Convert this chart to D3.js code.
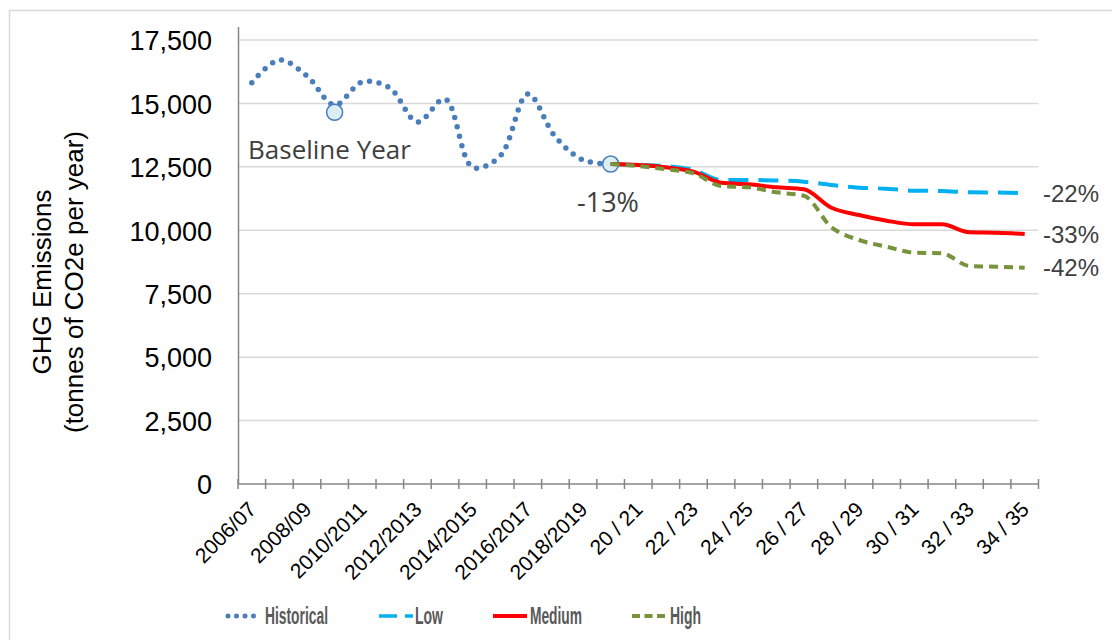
<!DOCTYPE html>
<html>
<head>
<meta charset="utf-8">
<script src="https://cdn.jsdelivr.net/npm/d3@7"></script>
<style>
    body { margin: 0; background: #fff; }
    .tick_label { font-family: "Liberation Sans", Arial, sans-serif; fill: #000; }
    .legendText { font-family: "Liberation Sans Narrow", "Liberation Sans", Arial, sans-serif; font-weight: bold; fill: #595959; font-size: 23px; }
    .note { font-family: "Open Sans", "Noto Sans", sans-serif; fill: #404040; }
</style>
</head>
<body>
<div class="ghg_chart"></div>
<script>

// categories along the x axis (financial years)
const years = ["2006/07", "2007/08", "2008/09", "2009/10", "2010/2011", "2011/2012", "2012/2013", "2013/2014",
    "2014/2015", "2015/2016", "2016/2017", "2017/2018", "2018/2019", "2019/2020", "20 / 21", "21 / 22",
    "22 / 23", "23 / 24", "24 / 25", "25 / 26", "26 / 27", "27 / 28", "28 / 29", "29 / 30", "30 / 31",
    "31 / 32", "32 / 33", "33 / 34", "34 / 35"]

const historical = [15817, 16712, 16081, 14938, 15845, 15608, 14268, 15174, 12483, 12928, 15371, 13677, 12770, 12612]

// projections start from 2019/2020
const projYears = years.slice(13)
const low = [12612, 12573, 12534, 12376, 11982, 11982, 11962, 11915, 11785, 11678, 11639, 11560, 11548, 11497, 11489, 11458]
const medium = [12612, 12573, 12482, 12310, 11875, 11812, 11694, 11615, 10890, 10602, 10378, 10236, 10236, 9921, 9905, 9853]
const high = [12612, 12534, 12403, 12246, 11745, 11694, 11497, 11363, 10118, 9617, 9353, 9117, 9093, 8592, 8565, 8526]

const markers = [
    { year: "2009/10", value: 14650, label: "Baseline Year" },
    { year: "2019/2020", value: 12612, label: "-13%" }
]
const endLabels = ["-22%", "-33%", "-42%"]
const yTicks = [0, 2500, 5000, 7500, 10000, 12500, 15000, 17500]

function drawChart() {

    const width = 1112
    const height = 640

    const svg = d3.select(".ghg_chart")
        .append("svg")
        .attr("width", width)
        .attr("height", height)

    // chart border
    svg.append("rect")
        .attr("x", 9.5)
        .attr("y", 10.5)
        .attr("width", 1200)
        .attr("height", 700)
        .attr("fill", "none")
        .attr("stroke", "#d9d9d9")
        .attr("stroke-width", 1.5)

    const x = d3.scaleBand()
        .domain(years)
        .range([238, 1038.5])

    const cx = d => x(d) + x.bandwidth() / 2

    const y = d3.scaleLinear()
        .domain([0, 17500])
        .range([484, 40])

    // gridlines
    svg.append("g")
        .selectAll("line")
        .data(yTicks.filter(d => d > 0))
        .join("line")
        .attr("x1", 238)
        .attr("x2", 1038.5)
        .attr("y1", d => y(d))
        .attr("y2", d => y(d))
        .attr("stroke", "#d9d9d9")
        .attr("stroke-width", 1.5)

    // y axis
    const yAxis = svg.append("g")
        .attr("transform", "translate(238,0)")
        .call(d3.axisLeft(y).tickValues(yTicks).tickSize(0).tickPadding(26).tickFormat(d3.format(",")))
    yAxis.select(".domain").remove()
    yAxis.selectAll("text")
        .attr("class", "tick_label")
        .attr("font-size", "27px")
        .attr("dy", "0.36em")

    svg.append("line")
        .attr("x1", 238.5)
        .attr("x2", 238.5)
        .attr("y1", 27)
        .attr("y2", 484)
        .attr("stroke", "#868686")
        .attr("stroke-width", 1.5)

    // y axis title
    const yTitle = svg.append("text")
        .attr("class", "tick_label")
        .attr("transform", "translate(0,282) rotate(-90)")
        .attr("text-anchor", "middle")
        .attr("font-size", "26px")
    yTitle.append("tspan").attr("x", 0).attr("y", 51).text("GHG Emissions")
    yTitle.append("tspan").attr("x", 0).attr("y", 83).text("(tonnes of CO2e per year)")

    // x axis
    svg.append("line")
        .attr("x1", 238)
        .attr("x2", 1038.5)
        .attr("y1", 484)
        .attr("y2", 484)
        .attr("stroke", "#868686")
        .attr("stroke-width", 1.5)

    const boundaries = years.map(d => x(d)).concat([x(years[years.length - 1]) + x.bandwidth()])
    svg.append("g")
        .selectAll("line")
        .data(boundaries)
        .join("line")
        .attr("x1", d => d)
        .attr("x2", d => d)
        .attr("y1", 479)
        .attr("y2", 489)
        .attr("stroke", "#868686")
        .attr("stroke-width", 1.5)

    svg.append("g")
        .selectAll("text")
        .data(years.filter((d, i) => i % 2 == 0))
        .join("text")
        .attr("class", "tick_label")
        .attr("font-size", "21px")
        .attr("text-anchor", "end")
        .attr("dy", "0.72em")
        .attr("transform", d => `translate(${cx(d) - 5},${500}) rotate(-45)`)
        .text(d => d)

    // historical dotted smoothed line
    const histLine = d3.line()
        .x((d, i) => cx(years[i]))
        .y(d => y(d))
        .curve(d3.curveCatmullRom)

    svg.append("path")
        .datum(historical)
        .attr("d", histLine)
        .attr("fill", "none")
        .attr("stroke", "#4a7ebb")
        .attr("stroke-width", 5.5)
        .attr("stroke-linecap", "round")
        .attr("stroke-dasharray", "0 9.6")

    // markers
    svg.append("g")
        .selectAll("circle")
        .data(markers)
        .join("circle")
        .attr("cx", d => cx(d.year))
        .attr("cy", d => y(d.value))
        .attr("r", 8)
        .attr("fill", "#dbeef4")
        .attr("stroke", "#4a7ebb")
        .attr("stroke-width", 1.5)

    // projections
    const projLine = d3.line()
        .x((d, i) => cx(projYears[i]))
        .y(d => y(d))
        .curve(d3.curveMonotoneX)

    const series = [
        { name: "Low", values: low, colour: "#00b0f0", dash: "20 10", width: 4 },
        { name: "Medium", values: medium, colour: "#ff0000", dash: null, width: 4 },
        { name: "High", values: high, colour: "#77933c", dash: "9 6", width: 4 }
    ]

    svg.append("g")
        .selectAll("path")
        .data(series)
        .join("path")
        .attr("d", d => projLine(d.values))
        .attr("fill", "none")
        .attr("stroke", d => d.colour)
        .attr("stroke-width", d => d.width)
        .attr("stroke-dasharray", d => d.dash)

    // end labels
    svg.append("g")
        .selectAll("text")
        .data(series)
        .join("text")
        .attr("font-family", "Liberation Sans, Arial, sans-serif")
        .attr("font-size", "24px")
        .attr("fill", "#404040")
        .attr("x", 1043)
        .attr("y", d => y(d.values[d.values.length - 1]))
        .attr("dy", "0.36em")
        .text((d, i) => endLabels[i])

    // annotation labels
    svg.append("text")
        .attr("class", "note")
        .attr("x", 248)
        .attr("y", 159)
        .attr("font-size", "26px")
        .text(markers[0].label)

    svg.append("text")
        .attr("class", "note")
        .attr("x", 577)
        .attr("y", 212)
        .attr("font-size", "27px")
        .text(markers[1].label)

    // legend
    const legendGroup = svg.append("g")
        .attr("class", "legendGroup")
        .attr("transform", "translate(0,616)")

    legendGroup.append("line")
        .attr("x1", 228).attr("x2", 262)
        .attr("stroke", "#4a7ebb")
        .attr("stroke-width", 5)
        .attr("stroke-linecap", "round")
        .attr("stroke-dasharray", "0 8.5")

    legendGroup.append("line")
        .attr("x1", 379).attr("x2", 413)
        .attr("stroke", "#00b0f0")
        .attr("stroke-width", 3.5)
        .attr("stroke-dasharray", "18 8")

    legendGroup.append("line")
        .attr("x1", 493).attr("x2", 527)
        .attr("stroke", "#ff0000")
        .attr("stroke-width", 4)

    legendGroup.append("line")
        .attr("x1", 632).attr("x2", 668)
        .attr("stroke", "#77933c")
        .attr("stroke-width", 4)
        .attr("stroke-dasharray", "8 4.5")

    const legendItems = [
        { text: "Historical", x: 265, w: 63 },
        { text: "Low", x: 415, w: 28 },
        { text: "Medium", x: 530, w: 52 },
        { text: "High", x: 670, w: 31 }
    ]

    legendGroup.selectAll("text")
        .data(legendItems)
        .join("text")
        .attr("class", "legendText")
        .attr("x", d => d.x)
        .attr("y", 8)
        .attr("textLength", d => d.w)
        .attr("lengthAdjust", "spacingAndGlyphs")
        .text(d => d.text)
}

drawChart()
</script>
</body>
</html>
